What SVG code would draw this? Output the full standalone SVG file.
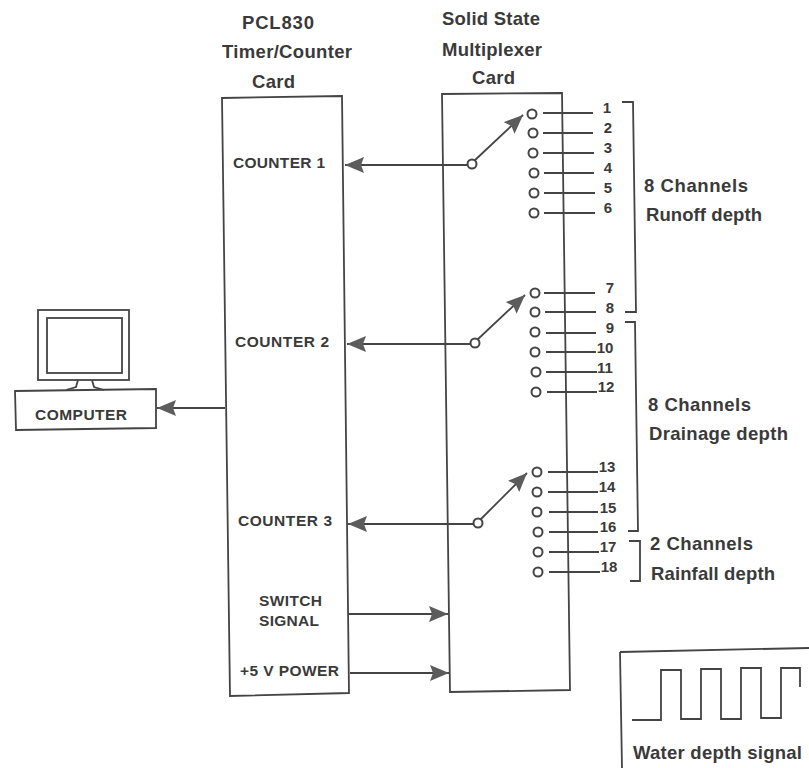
<svg xmlns="http://www.w3.org/2000/svg" width="809" height="768" viewBox="0 0 809 768">
<defs><marker id="a" markerUnits="userSpaceOnUse" markerWidth="22" markerHeight="18" refX="19" refY="8" orient="auto"><path d="M0 0L19 8L0 16L3 8Z" fill="#5c5c5c"/></marker></defs>
<style>
text{font-family:"Liberation Sans",Arial,sans-serif;font-weight:bold;fill:#3a3a3a}
.h{font-size:18.5px}.s{font-size:15.5px}.n{font-size:15px;text-anchor:middle}
.l{fill:none;stroke:#444;stroke-width:1.8}
.c{fill:#fff;stroke:#444;stroke-width:2}
</style>
<rect width="809" height="768" fill="#fff"/>
<g id="titles">
<text class="h" x="242" y="29" textLength="72">PCL830</text>
<text class="h" x="222" y="58" textLength="130">Timer/Counter</text>
<text class="h" x="252" y="88" textLength="43">Card</text>
<text class="h" x="442" y="25" textLength="98">Solid State</text>
<text class="h" x="442" y="56" textLength="100">Multiplexer</text>
<text class="h" x="472" y="84" textLength="43">Card</text>
</g>
<g id="timer-card">
<path class="l" d="M222 98L342 96L349 693L230 696Z"/>
<text class="s" x="233" y="168" textLength="92">COUNTER 1</text>
<text class="s" x="235" y="347" textLength="94">COUNTER 2</text>
<text class="s" x="238" y="526" textLength="94">COUNTER 3</text>
<text class="s" x="259" y="606" textLength="63">SWITCH</text>
<text class="s" x="259" y="626" textLength="60">SIGNAL</text>
<text class="s" x="240" y="676" textLength="99">+5 V POWER</text>
</g>
<g id="mux-card">
<path class="l" d="M442 94L562 93L570 690L450 692Z"/>
</g>
<g id="computer">
<rect class="l" x="38" y="310" width="91" height="70"/>
<rect class="l" x="47" y="318" width="75" height="55"/>
<path class="l" d="M78 380L76 387L66 390M92 380L94 387L104 390"/>
<path class="l" d="M15 391L156 389V428L16 430Z"/>
<text class="s" x="35" y="420" textLength="92">COMPUTER</text>
</g>
<g id="signal-box">
<path class="l" d="M620 652L809 648M620 652L622 768"/>
<path class="l" d="M632 720H661V670H681V719H701V669H721V719H741V668H761V718H781V668H800V687"/>
<text class="h" x="633" y="759" textLength="169">Water depth signal</text>
</g>
<g id="connectors">
<path class="l" d="M470 165H345" marker-end="url(#a)"/>
<path class="l" d="M472 344H347" marker-end="url(#a)"/>
<path class="l" d="M478 524H348" marker-end="url(#a)"/>
<path class="l" d="M225 408H157" marker-end="url(#a)"/>
<path class="l" d="M349 614H448" marker-end="url(#a)"/>
<path class="l" d="M350 673H449" marker-end="url(#a)"/>
<path class="l" d="M474 161L523 115" marker-end="url(#a)"/>
<path class="l" d="M477 340L525 295" marker-end="url(#a)"/>
<path class="l" d="M480 520L527 473" marker-end="url(#a)"/>
<path class="l" d="M543 113H593M543 133H593M543 153H594M544 173H594M544 193H595M544 213H595M544 293H595M545 312H596M546 333H596M546 352H596M546 372H597M547 392H597M548 472H598M548 492H598M549 512H598M549 532H598M549 552H599M549 572H600"/>
</g>
<g id="contacts">
<circle class="c" cx="472" cy="164" r="4.5"/><circle class="c" cx="475" cy="343" r="4.5"/><circle class="c" cx="478" cy="523" r="4.5"/>
<circle class="c" cx="532" cy="114" r="4.5"/><circle class="c" cx="533" cy="133" r="4.5"/><circle class="c" cx="533" cy="153" r="4.5"/><circle class="c" cx="534" cy="173" r="4.5"/><circle class="c" cx="534" cy="193" r="4.5"/><circle class="c" cx="534" cy="213" r="4.5"/>
<circle class="c" cx="535" cy="293" r="4.5"/><circle class="c" cx="535" cy="312" r="4.5"/><circle class="c" cx="535" cy="332" r="4.5"/><circle class="c" cx="535" cy="352" r="4.5"/><circle class="c" cx="536" cy="372" r="4.5"/><circle class="c" cx="536" cy="392" r="4.5"/>
<circle class="c" cx="537" cy="472" r="4.5"/><circle class="c" cx="537" cy="492" r="4.5"/><circle class="c" cx="537" cy="512" r="4.5"/><circle class="c" cx="538" cy="532" r="4.5"/><circle class="c" cx="538" cy="552" r="4.5"/><circle class="c" cx="538" cy="572" r="4.5"/>
</g>
<g id="channel-numbers">
<text class="n" x="607" y="113">1</text><text class="n" x="608" y="133">2</text><text class="n" x="608" y="153">3</text><text class="n" x="608" y="173">4</text><text class="n" x="608" y="193">5</text><text class="n" x="608" y="213">6</text>
<text class="n" x="610" y="293">7</text><text class="n" x="610" y="313">8</text><text class="n" x="610" y="333">9</text><text class="n" x="605" y="353">10</text><text class="n" x="605" y="373">11</text><text class="n" x="606" y="392">12</text>
<text class="n" x="607" y="472">13</text><text class="n" x="607" y="492">14</text><text class="n" x="608" y="513">15</text><text class="n" x="608" y="532">16</text><text class="n" x="608" y="552">17</text><text class="n" x="609" y="572">18</text>
</g>
<g id="brackets">
<path class="l" d="M622 102H633L636 312H625"/>
<path class="l" d="M625 322H635L638 531H628"/>
<path class="l" d="M629 541H640V581H630"/>
<text class="h" x="644" y="192" textLength="104">8 Channels</text>
<text class="h" x="646" y="221" textLength="116">Runoff depth</text>
<text class="h" x="648" y="411" textLength="103">8 Channels</text>
<text class="h" x="649" y="440" textLength="139">Drainage depth</text>
<text class="h" x="650" y="550" textLength="103">2 Channels</text>
<text class="h" x="651" y="580" textLength="124">Rainfall depth</text>
</g>
</svg>
